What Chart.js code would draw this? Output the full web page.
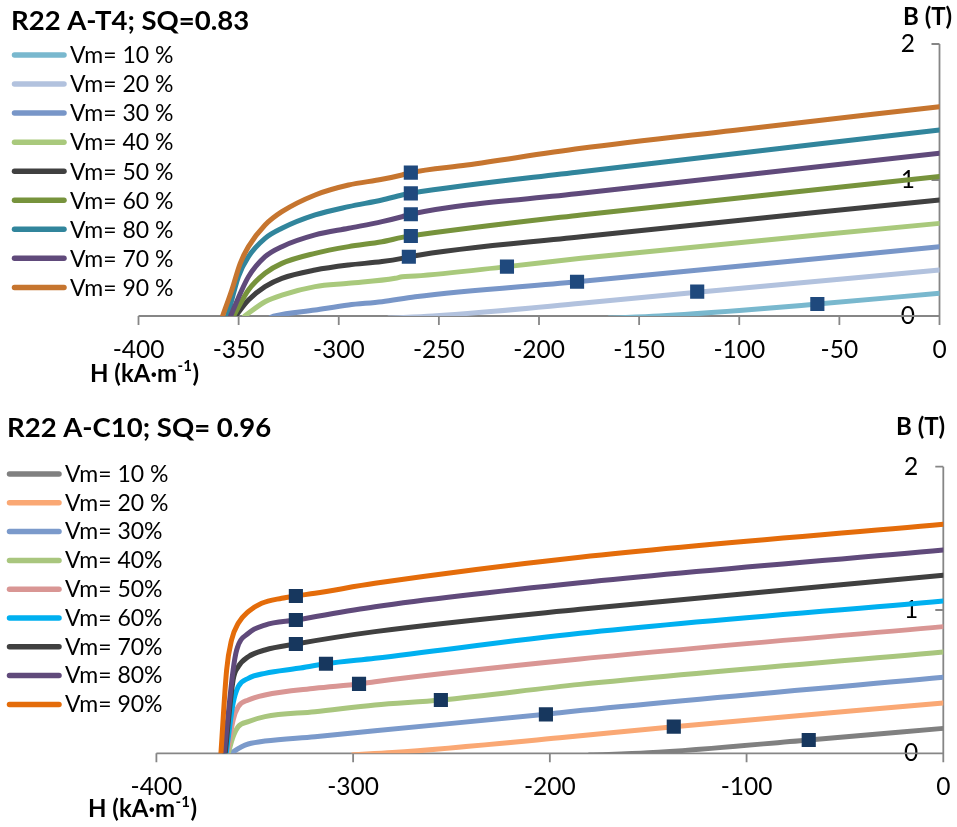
<!DOCTYPE html>
<html><head><meta charset="utf-8">
<script src="https://cdn.jsdelivr.net/npm/chart.js@4.4.1/dist/chart.umd.min.js"></script>
<style>
html,body{margin:0;padding:0;background:#fff;}
#wrap{position:relative;width:957px;height:827px;overflow:hidden;background:#fff;}
canvas{position:absolute;left:0;}
#c1{top:0}
#c2{top:400px}
</style></head><body>
<div id="wrap"><canvas id="c1" width="957" height="400"></canvas><canvas id="c2" width="957" height="427"></canvas></div>
<script>
// ---------- data: chart 1 (R22 A-T4) ----------
const xTicksT4 = [-400,-350,-300,-250,-200,-150,-100,-50,0];
const yTicksB = [0,1,2];
const labelsT4 = ['Vm= 10 %','Vm= 20 %','Vm= 30 %','Vm= 40 %','Vm= 50 %','Vm= 60 %','Vm= 80 %','Vm= 70 %','Vm= 90 %'];
const colorsT4 = ['#79B8CE','#B2C2DE','#7896C8','#A9C97C','#404040','#77933C','#31859C','#604A7B','#C6752F'];
const T4_10 = [[-165,-0.015],[-140,0.0],[-100,0.04],[-61,0.088],[0,0.167]];
const T4_20 = [[-275,-0.015],[-253,0.0],[-179,0.093],[-121,0.175],[0,0.338]];
const T4_30 = [[-334,-0.01],[-332,0],[-311.8,0.044],[-295.1,0.081],[-278.4,0.105],[-261.8,0.142],[-181,0.252],[0,0.51]];
const T4_40 = [[-347,0],[-336.8,0.105],[-328.4,0.154],[-311.8,0.216],[-295.1,0.24],[-271.8,0.277],[-268.4,0.289],[-261.8,0.294],[-216,0.363],[-179,0.424],[0,0.681]];
const T4_50 = [[-351.5,0],[-345.1,0.118],[-336.8,0.216],[-328.4,0.277],[-311.8,0.338],[-295.1,0.375],[-278.4,0.4],[-268.4,0.424],[-265,0.436],[-179,0.583],[0,0.853]];
const T4_60 = [[-352.5,0],[-345.1,0.191],[-336.8,0.314],[-328.4,0.387],[-311.8,0.461],[-295.1,0.51],[-278.4,0.546],[-268.4,0.578],[-264.3,0.588],[-179,0.743],[0,1.025]];
const T4_80 = [[-355.5,0],[-350.1,0.289],[-345.1,0.436],[-336.8,0.571],[-328.4,0.645],[-311.8,0.743],[-295.1,0.804],[-278.4,0.853],[-268.4,0.89],[-264.3,0.902],[-179,1.061],[0,1.368]];
const T4_70 = [[-354,0],[-348.4,0.191],[-345.1,0.289],[-336.8,0.436],[-328.4,0.51],[-311.8,0.596],[-295.1,0.645],[-278.4,0.694],[-268.4,0.73],[-264.3,0.748],[-179,0.902],[0,1.196]];
const T4_90 = [[-358,0],[-353.4,0.191],[-349.2,0.387],[-345.1,0.51],[-336.8,0.669],[-328.4,0.767],[-311.8,0.89],[-295.1,0.963],[-278.4,1.005],[-268.4,1.037],[-264.3,1.054],[-236,1.11],[-179,1.233],[-100,1.37],[0,1.539]];
const markT4_H = [-61,-121,-181,-216,-265,-264,-264,-264,-264];
const markT4_B = [0.088,0.179,0.252,0.363,0.436,0.588,0.748,0.902,1.054];

// ---------- data: chart 2 (R22 A-C10) ----------
const xTicksC10 = [-400,-300,-200,-100,0];
const labelsC10 = ['Vm= 10 %','Vm= 20 %','Vm= 30%','Vm= 40%','Vm= 50%','Vm= 60%','Vm= 70%','Vm= 80%','Vm= 90%'];
const colorsC10 = ['#808080','#FAA874','#7B9ACB','#A9C67E','#D99694','#00B0F0','#404040','#604A7B','#E46C0A'];
const C10_10 = [[-180,-0.012],[-150,0.003],[-68.4,0.093],[0,0.174]];
const C10_20 = [[-300,-0.01],[-280,0.005],[-195,0.108],[-137,0.186],[0,0.351]];
const C10_30 = [[-362,0],[-361,0.01],[-356.7,0.046],[-353.3,0.065],[-344.8,0.086],[-319.4,0.116],[-288.9,0.158],[-202,0.272],[-194.9,0.283],[0,0.53]];
const C10_40 = [[-363.5,0],[-361,0.116],[-358.4,0.186],[-353.3,0.221],[-344.8,0.256],[-319.4,0.29],[-288.9,0.337],[-255.4,0.372],[-184.7,0.481],[0,0.707]];
const C10_50 = [[-364,0],[-361,0.232],[-358.4,0.325],[-353.3,0.372],[-344.8,0.407],[-319.4,0.454],[-297,0.484],[-288.9,0.5],[-184.7,0.658],[0,0.884]];
const C10_60 = [[-364.5,0],[-361,0.349],[-358.4,0.465],[-353.3,0.523],[-344.8,0.558],[-327.9,0.593],[-313.8,0.625],[-288.9,0.663],[-184.7,0.837],[0,1.063]];
const C10_70 = [[-365,0],[-361,0.512],[-358.4,0.604],[-353.3,0.674],[-344.8,0.721],[-329.1,0.763],[-288.9,0.849],[-184.7,1.005],[0,1.242]];
const C10_80 = [[-365.5,0],[-361,0.581],[-359.2,0.721],[-353.3,0.837],[-344.8,0.895],[-329.1,0.93],[-288.9,1.023],[-184.7,1.19],[0,1.419]];
const C10_90 = [[-367.2,0],[-364.3,0.581],[-361.8,0.791],[-358.4,0.907],[-353.3,0.988],[-346.5,1.047],[-336.3,1.082],[-329.1,1.098],[-319.4,1.117],[-288.9,1.186],[-184.7,1.368],[0,1.598]];
const markC10_H = [-68.4,-137,-202,-255.4,-297,-313.8,-329.1,-329.1,-329.1];
const markC10_B = [0.093,0.186,0.272,0.372,0.484,0.625,0.763,0.93,1.098];

const FONT = 'Lato, "Open Sans", sans-serif';
const AXIS_COLOR = '#868686';

function buildDatasets(series, labels, colors, mH, mB, markColor){
  const ds = series.map((pts,i)=>({
    label: labels[i],
    data: pts.map(p=>({x:p[0], y:p[1]})),
    showLine: true,
    borderColor: colors[i],
    backgroundColor: colors[i],
    borderWidth: 5,
    pointRadius: 0,
    pointHoverRadius: 0,
    cubicInterpolationMode: 'monotone',
    borderCapStyle: 'round',
    borderJoinStyle: 'round',
    order: 20 - i,
    isSeries: true
  }));
  ds.push({
    label: 'markers',
    data: mH.map((h,i)=>({x:h, y:mB[i]})),
    showLine: false,
    pointStyle: 'rect',
    pointRadius: 10,
    pointHoverRadius: 10,
    backgroundColor: markColor,
    borderWidth: 0,
    order: 0,
    isSeries: false
  });
  return ds;
}

function makeDecor(cfg){
  return {
    id: 'decor_' + cfg.name,
    beforeDatasetsDraw(chart){
      const ctx = chart.ctx, xs = chart.scales.x, ys = chart.scales.y, ca = chart.chartArea;
      const x0 = xs.getPixelForValue(0), y0 = ys.getPixelForValue(0);
      ctx.save();
      ctx.strokeStyle = AXIS_COLOR; ctx.lineWidth = 1.8; ctx.lineCap = 'butt';
      ctx.beginPath();
      ctx.moveTo(ca.left, y0); ctx.lineTo(ca.right, y0);
      ctx.moveTo(x0, ca.top); ctx.lineTo(x0, ca.bottom);
      xs.ticks.forEach(t=>{ const px = xs.getPixelForValue(t.value); ctx.moveTo(px, y0); ctx.lineTo(px, y0 + 9); });
      ys.ticks.forEach(t=>{ const py = ys.getPixelForValue(t.value); ctx.moveTo(x0 - 8, py); ctx.lineTo(x0, py); });
      ctx.stroke();
      ctx.restore();
    },
    afterDraw(chart){
      const ctx = chart.ctx;
      ctx.save();
      ctx.fillStyle = '#000';
      ctx.textBaseline = 'alphabetic';
      ctx.textAlign = 'left';
      // title
      ctx.font = 'bold ' + cfg.titleSize + 'px ' + FONT;
      ctx.fillText(cfg.title, cfg.titleX, cfg.titleY);
      // B (T)
      ctx.font = 'bold ' + cfg.axisTitleSize + 'px ' + FONT;
      ctx.fillText('B (T)', cfg.bX, cfg.bY);
      // H (kA·m-1)
      let x = cfg.hX;
      ctx.font = 'bold ' + cfg.axisTitleSize + 'px ' + FONT;
      ctx.fillText('H (kA\u00B7m', x, cfg.hY);
      x += ctx.measureText('H (kA\u00B7m').width + 0.5;
      ctx.font = 'bold ' + Math.round(cfg.axisTitleSize*0.62) + 'px ' + FONT;
      ctx.fillText('-1', x, cfg.hY - cfg.axisTitleSize*0.42);
      x += ctx.measureText('-1').width + 0.5;
      ctx.font = 'bold ' + cfg.axisTitleSize + 'px ' + FONT;
      ctx.fillText(')', x, cfg.hY);
      // legend
      const series = chart.data.datasets.filter(d=>d.isSeries);
      ctx.font = cfg.legendSize + 'px ' + FONT;
      series.forEach((d,i)=>{
        const yy = cfg.legY + i*cfg.legStep;
        ctx.strokeStyle = d.borderColor; ctx.lineWidth = 5.5; ctx.lineCap = 'round';
        ctx.beginPath(); ctx.moveTo(cfg.legX1, yy); ctx.lineTo(cfg.legX2, yy); ctx.stroke();
        ctx.fillText(d.label, cfg.legTextX, yy + cfg.legBaseOff);
      });
      ctx.restore();
    }
  };
}

function makeChart(canvasId, cfg){
  const c = document.getElementById(canvasId);
  const H = c.height;
  return new Chart(c, {
    type: 'scatter',
    data: { datasets: buildDatasets(cfg.series, cfg.labels, cfg.colors, cfg.mH, cfg.mB, cfg.markColor) },
    options: {
      responsive: false,
      animation: false,
      devicePixelRatio: 1,
      events: [],
      layout: { padding: { left: cfg.areaLeft, right: c.width - cfg.areaRight, top: cfg.areaTop, bottom: 0 } },
      plugins: { legend: { display: false }, tooltip: { enabled: false }, title: { display: false } },
      scales: {
        x: {
          type: 'linear', position: 'bottom', min: -400, max: 0,
          afterBuildTicks: s => { s.ticks = cfg.xTicks.map(v=>({value:v})); },
          afterFit: s => { s.height = H - cfg.areaBottom; s.paddingLeft = 0; s.paddingRight = 0; },
          grid: { display: false, drawTicks: false },
          border: { display: false },
          ticks: { autoSkip: false, maxRotation: 0, padding: cfg.xPad, color: '#000',
                   font: { family: FONT, size: cfg.tickSize }, callback: v => String(v) }
        },
        y: {
          type: 'linear', position: 'right', min: 0, max: 2,
          afterBuildTicks: s => { s.ticks = yTicksB.map(v=>({value:v})); },
          afterFit: s => { s.width = 0; s.paddingTop = 0; s.paddingBottom = 0; },
          grid: { display: false, drawTicks: false },
          border: { display: false },
          ticks: { mirror: true, padding: cfg.yPad, color: '#000',
                   font: { family: FONT, size: cfg.tickSize }, callback: v => String(v) }
        }
      }
    },
    plugins: [makeDecor(cfg)]
  });
}

makeChart('c1', {
  name: 't4',
  series: [T4_10,T4_20,T4_30,T4_40,T4_50,T4_60,T4_80,T4_70,T4_90],
  labels: labelsT4, colors: colorsT4, mH: markT4_H, mB: markT4_B, markColor: '#1F497D',
  xTicks: xTicksT4,
  areaLeft: 138.5, areaRight: 939.5, areaTop: 44, areaBottom: 316,
  xPad: 19, yPad: -24.5, tickSize: 24.5,
  title: 'R22 A-T4; SQ=0.83', titleSize: 27.5, titleX: 11, titleY: 29.5,
  axisTitleSize: 24, bX: 903, bY: 25, hX: 90, hY: 381.5,
  legendSize: 23, legX1: 14.5, legX2: 64, legTextX: 70, legY: 55, legStep: 29.05, legBaseOff: 8.3
});

makeChart('c2', {
  name: 'c10',
  series: [C10_10,C10_20,C10_30,C10_40,C10_50,C10_60,C10_70,C10_80,C10_90],
  labels: labelsC10, colors: colorsC10, mH: markC10_H, mB: markC10_B, markColor: '#17375E',
  xTicks: xTicksC10,
  areaLeft: 156.4, areaRight: 943.3, areaTop: 66.7, areaBottom: 353.3,
  xPad: 19, yPad: -25, tickSize: 24.5,
  title: 'R22 A-C10; SQ= 0.96', titleSize: 27.5, titleX: 7, titleY: 36.7,
  axisTitleSize: 24, bX: 896, bY: 35, hX: 88, hY: 416.7,
  legendSize: 23, legX1: 9.5, legX2: 59, legTextX: 65, legY: 74, legStep: 28.8, legBaseOff: 7.7
});
</script>
</body></html>
